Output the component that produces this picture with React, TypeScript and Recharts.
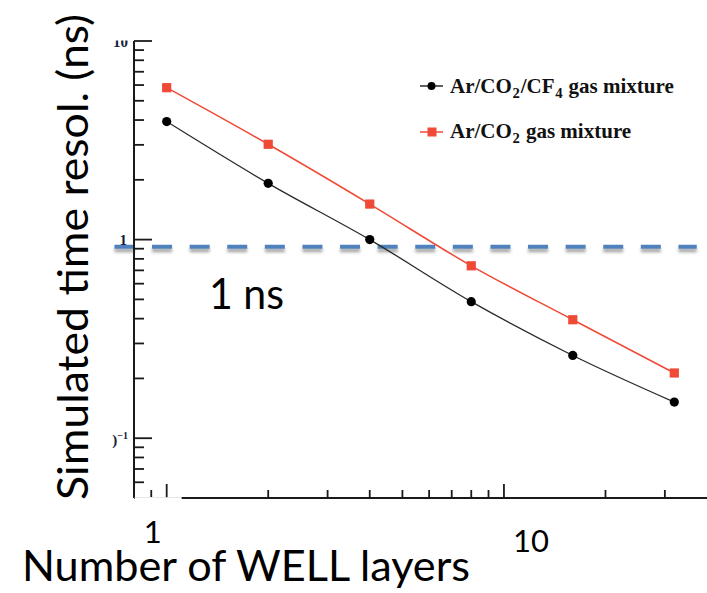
import React from 'react';
import { LineChart, Line, XAxis, YAxis, ReferenceLine, Legend } from 'recharts';

// ---- data ----
const layers = [1, 2, 4, 8, 16, 32];
const arCo2Cf4 = [3.93, 1.92, 1.0, 0.487, 0.261, 0.152];
const arCo2 = [5.82, 3.02, 1.51, 0.738, 0.395, 0.213];
const seriesNames = ['Ar/CO₂/CF₄ gas mixture', 'Ar/CO₂ gas mixture'];
const xTicks = [0.9, 1, 2, 3, 4, 5, 6, 7, 8, 9, 10, 20, 30];
const xTickLabels: Record<string, string> = { '1': '1', '10': '10' };
const yTicks = [0.06, 0.07, 0.08, 0.09, 0.1, 0.2, 0.3, 0.4, 0.5, 0.6, 0.7, 0.8, 0.9, 1, 2, 3, 4, 5, 6, 7, 8, 9, 10];
const xDomain = [0.8, 40];
const yDomain = [0.05, 10];
const refLevel = 0.92;
const refSpan = [0.7, 37.3];
const refLabel = '1 ns';
const xTitle = 'Number of WELL layers';
const yTitle = 'Simulated time resol. (ns)';

const data = layers.map((n, i) => ({ n, cf4: arCo2Cf4[i], co2: arCo2[i] }));

const AXIS = '#1a1a1a';
const BLACK_LINE = '#2a2a2a';
const RED = '#ef4a36';
const BLUE = '#4f81bd';
const SANS = 'Lato, "Open Sans", sans-serif';
const SERIF = '"Liberation Serif", "Times New Roman", serif';
const TICK_W = 1.8;

const isDecade = (v: number) => Math.abs(Math.log10(v) - Math.round(Math.log10(v))) < 1e-6;

const BottomTick = (p: any) => {
  const { x, y, payload } = p;
  const v = payload.value;
  const major = isDecade(v);
  const lbl = xTickLabels[String(v)];
  return (
    <g>
      {v === 1 && <rect x={x - 32} y={y - 0.9} width={47} height={4} fill="#fff" />}
      <line x1={x} y1={y - 0.8} x2={x} y2={y - (major ? 14 : 8)} stroke={AXIS} strokeWidth={TICK_W} />
      {lbl && v === 1 && (
        <text x={x - 14} y={y + 45} textAnchor="middle" fontFamily={SANS} fontSize={31} fill="#000">{lbl}</text>
      )}
      {lbl && v === 10 && (
        <text x={x + 27} y={y + 54} textAnchor="middle" fontFamily={SANS} fontSize={31} fill="#000">{lbl}</text>
      )}
    </g>
  );
};

const TopTick = (p: any) => {
  const { x, y, payload } = p;
  const major = isDecade(payload.value);
  return <line x1={x} y1={y} x2={x} y2={y + (major ? 14 : 7)} stroke={AXIS} strokeWidth={TICK_W} />;
};

const LeftTick = (p: any) => {
  const { x, y, payload } = p;
  const v = payload.value;
  const major = isDecade(v);
  const style = { fontFamily: SERIF, fontWeight: 700, fill: '#14203a' } as any;
  return (
    <g>
      <line x1={x} y1={y} x2={x + (major ? 18 : 10)} y2={y} stroke={AXIS} strokeWidth={TICK_W} />
      {v === 10 && (
        <g>
          <text x={x - 6} y={y + 6} textAnchor="end" fontSize={15} {...style}>10</text>
          <rect x={x - 28} y={y - 14} width={22} height={13.5} fill="#fff" />
        </g>
      )}
      {v === 1 && <text x={x - 7} y={y + 5} textAnchor="end" fontSize={15} {...style}>1</text>}
      {Math.abs(v - 0.1) < 1e-9 && (
        <text x={x - 6} y={y + 7} textAnchor="end" fontSize={15} {...style}>
          )<tspan dy={-6} fontSize={10}>−1</tspan>
        </text>
      )}
    </g>
  );
};

const RightTick = (p: any) => {
  const { x, y, payload } = p;
  const major = isDecade(payload.value);
  return <line x1={x} y1={y} x2={x - (major ? 17 : 8)} y2={y} stroke={AXIS} strokeWidth={TICK_W} />;
};

const renderXTitle = () => (
  <text x={22} y={581} fontFamily={SANS} fontSize={42} fill="#000" textLength={448} lengthAdjust="spacingAndGlyphs">
    {xTitle}
  </text>
);

const renderYTitle = () => (
  <text
    x={88}
    y={257}
    transform="rotate(-90 88 257)"
    textAnchor="middle"
    fontFamily={SANS}
    fontSize={42}
    fill="#000"
    textLength={486}
    lengthAdjust="spacingAndGlyphs"
  >
    {yTitle}
  </text>
);

const RefShape = (p: any) => {
  const { x1, y1, x2, y2 } = p;
  return (
    <g>
      <defs>
        <filter id="dashShadow" filterUnits="userSpaceOnUse" x={0} y={0} width={707} height={593}>
          <feGaussianBlur stdDeviation={1.6} />
        </filter>
      </defs>
      <line x1={x1} y1={y1 + 3.5} x2={x2} y2={y2 + 3.5} stroke="#000" strokeOpacity={0.35} strokeWidth={4} strokeDasharray="20 17.6" filter="url(#dashShadow)" />
      <line x1={x1} y1={y1} x2={x2} y2={y2} stroke={BLUE} strokeWidth={4} strokeDasharray="20 17.6" />
      <rect x={x1 + 73} y={y1 + 8} width={117} height={60} fill="#fff" />
      <text x={x1 + 132} y={y1 + 62} textAnchor="middle" fontFamily={SANS} fontSize={42} fill="#000" textLength={75} lengthAdjust="spacingAndGlyphs">
        {refLabel}
      </text>
    </g>
  );
};

const SquareDot = (p: any) => {
  const { cx, cy, index } = p;
  if (cx == null || cy == null) return <g key={`sq-${index}`} />;
  return <rect key={`sq-${index}`} x={cx - 4.6} y={cy - 4.6} width={9.2} height={9.2} fill={RED} />;
};

const withSubs = (s: string) =>
  Array.from(s).map((ch, i) => {
    const code = ch.charCodeAt(0);
    if (code >= 0x2080 && code <= 0x2089) {
      return (
        <span key={i} style={{ fontSize: '0.7em', position: 'relative', top: '0.35em', padding: '0 0.05em' }}>
          {String(code - 0x2080)}
        </span>
      );
    }
    return <React.Fragment key={i}>{ch}</React.Fragment>;
  });

const legendIcons = [
  { line: BLACK_LINE, marker: 'circle', fill: '#000' },
  { line: RED, marker: 'square', fill: RED },
];

const LegendContent = () => (
  <div style={{ position: 'relative', width: 290, height: 80 }}>
    {seriesNames.map((name, i) => (
      <div
        key={name}
        style={{ position: 'absolute', left: 0, top: i * 45.7, height: 32, display: 'flex', alignItems: 'center' }}
      >
        <svg width={24} height={12} style={{ display: 'block' }}>
          <line x1={1} y1={6} x2={24} y2={6} stroke={legendIcons[i].line} strokeWidth={1.5} />
          {legendIcons[i].marker === 'circle' ? (
            <circle cx={12.5} cy={6} r={4} fill={legendIcons[i].fill} />
          ) : (
            <rect x={8.5} y={1.5} width={9} height={9} fill={legendIcons[i].fill} />
          )}
        </svg>
        <span
          style={{
            marginLeft: 7,
            fontFamily: SERIF,
            fontWeight: 700,
            fontSize: 21,
            lineHeight: 1,
            color: '#111',
            whiteSpace: 'nowrap',
          }}
        >
          {withSubs(name)}
        </span>
      </div>
    ))}
  </div>
);

export default function App() {
  return (
    <div style={{ position: 'absolute', left: 0, top: 0, width: 707, height: 593, background: '#fff', overflow: 'hidden' }}>
      <LineChart width={707} height={593} data={data} margin={{ top: 41, right: 0, bottom: 0, left: 0 }}>
        <XAxis
          xAxisId="b"
          dataKey="n"
          type="number"
          scale="log"
          domain={xDomain}
          allowDataOverflow
          ticks={xTicks}
          interval={0}
          height={95}
          tickSize={0}
          tickMargin={0}
          tickLine={false}
          axisLine={{ stroke: AXIS, strokeWidth: 2 }}
          tick={BottomTick}
          label={renderXTitle}
        />
        <XAxis
          xAxisId="t"
          orientation="top"
          dataKey="n"
          type="number"
          scale="log"
          domain={xDomain}
          allowDataOverflow
          ticks={xTicks}
          interval={0}
          height={0}
          tickSize={0}
          tickMargin={0}
          tickLine={false}
          axisLine={{ stroke: AXIS, strokeWidth: 2 }}
          tick={TopTick}
        />
        <YAxis
          yAxisId="l"
          type="number"
          scale="log"
          domain={yDomain}
          allowDataOverflow
          ticks={yTicks}
          interval={0}
          width={134}
          tickSize={0}
          tickMargin={0}
          tickLine={false}
          axisLine={{ stroke: AXIS, strokeWidth: 2 }}
          tick={LeftTick}
          label={renderYTitle}
        />
        <YAxis
          yAxisId="r"
          orientation="right"
          type="number"
          scale="log"
          domain={yDomain}
          allowDataOverflow
          ticks={yTicks}
          interval={0}
          width={0}
          tickSize={0}
          tickMargin={0}
          tickLine={false}
          axisLine={false}
          tick={RightTick}
        />
        <Line
          xAxisId="t"
          yAxisId="r"
          dataKey="cf4"
          stroke="none"
          dot={false}
          activeDot={false}
          legendType="none"
          isAnimationActive={false}
        />
        <ReferenceLine
          xAxisId="b"
          yAxisId="l"
          segment={[
            { x: refSpan[0], y: refLevel },
            { x: refSpan[1], y: refLevel },
          ]}
          ifOverflow="visible"
          shape={RefShape}
        />
        <Line
          xAxisId="b"
          yAxisId="l"
          type="monotone"
          dataKey="cf4"
          name={seriesNames[0]}
          stroke={BLACK_LINE}
          strokeWidth={1.3}
          dot={{ r: 4.6, fill: '#000', stroke: '#000', strokeWidth: 0 }}
          activeDot={false}
          isAnimationActive={false}
        />
        <Line
          xAxisId="b"
          yAxisId="l"
          type="monotone"
          dataKey="co2"
          name={seriesNames[1]}
          stroke={RED}
          strokeWidth={1.5}
          dot={SquareDot}
          activeDot={false}
          isAnimationActive={false}
        />
        <Legend
          layout="vertical"
          align="center"
          verticalAlign="middle"
          content={LegendContent}
          wrapperStyle={{ top: 70, left: 419, width: 290, height: 80 }}
        />
      </LineChart>
    </div>
  );
}
